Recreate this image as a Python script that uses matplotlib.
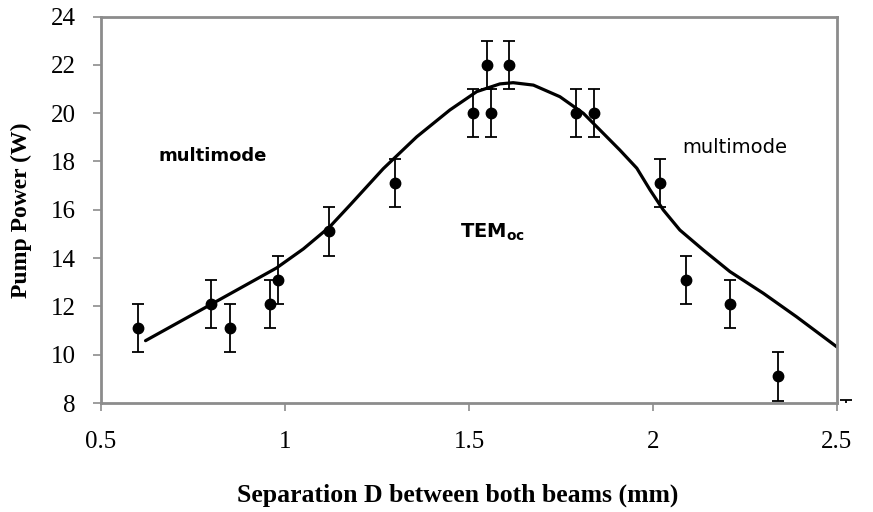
import matplotlib
matplotlib.use("Agg")
import matplotlib.pyplot as plt
from matplotlib.patches import Rectangle

# Data
sep_mm = [0.60, 0.80, 0.85, 0.96, 0.98, 1.12, 1.30, 1.51, 1.55, 1.56, 1.61,
          1.79, 1.84, 2.02, 2.09, 2.21, 2.34]
power_w = [11.1, 12.1, 11.1, 12.1, 13.1, 15.1, 17.1, 20.0, 22.0, 20.0, 22.0,
           20.0, 20.0, 17.1, 13.1, 12.1, 9.1]
power_err = 1.0

extra_x = [2.524]
extra_y = [7.12]

fit_x = [0.621, 0.801, 0.977, 1.050, 1.122, 1.177, 1.267, 1.358, 1.448, 1.521,
         1.584, 1.620, 1.675, 1.747, 1.811, 1.856, 1.910, 1.956, 1.992,
         2.028, 2.073, 2.137, 2.209, 2.300, 2.390, 2.499, 2.52]
fit_y = [10.58, 12.10, 13.59, 14.38, 15.30, 16.20, 17.70, 19.02, 20.13, 20.89,
         21.21, 21.26, 21.16, 20.68, 19.99, 19.30, 18.47, 17.72, 16.82,
         15.99, 15.16, 14.33, 13.44, 12.54, 11.57, 10.33, 10.12]

x_ticks = [0.5, 1, 1.5, 2, 2.5]
x_tick_labels = ["0.5", "1", "1.5", "2", "2.5"]
y_ticks = [8, 10, 12, 14, 16, 18, 20, 22, 24]

fig = plt.figure(figsize=(8.73, 5.12), dpi=100)
ax = fig.add_axes([101/873, 109/512, 736/873, 386.5/512])

serif = ["Liberation Serif", "DejaVu Serif"]

ax.plot(fit_x, fit_y, color="black", lw=2.3, solid_capstyle="round",
        solid_joinstyle="round")
ax.errorbar(sep_mm, power_w, yerr=power_err, fmt="o", color="black",
            ms=7.5, elinewidth=1.3, capsize=4.5, capthick=1.3)

eb = ax.errorbar(extra_x, extra_y, yerr=power_err, fmt="o", color="black",
                 ms=7.5, elinewidth=1.3, capsize=4.5, capthick=1.3)
clip = Rectangle((0, 0), 1.1, 1.0, transform=ax.transAxes, visible=False)
ax.add_patch(clip)
eb.lines[0].set_clip_path(clip)
for line in eb.lines[1]:
    line.set_clip_path(clip)
for coll in eb.lines[2]:
    coll.set_clip_path(clip)

ax.set_xlim(0.5, 2.5)
ax.set_ylim(8, 24)
ax.set_xticks(x_ticks)
ax.set_xticklabels(x_tick_labels)
ax.set_yticks(y_ticks)

for sp in ax.spines.values():
    sp.set_color("#8c8c8c")
    sp.set_linewidth(2)
ax.tick_params(direction="out", length=6, width=1.2, color="#8c8c8c",
               labelsize=18)
ax.tick_params(axis="y", pad=12)
ax.tick_params(axis="x", pad=14)
for lab in ax.get_xticklabels() + ax.get_yticklabels():
    lab.set_fontfamily(serif)

ax.set_xlabel("Separation D between both beams (mm)", fontsize=18.5,
              fontweight="bold", family=serif, labelpad=22)
ax.xaxis.label.set_x(0.484)
ax.set_ylabel("Pump Power (W)", fontsize=17, fontweight="bold",
              family=serif, labelpad=14)

ax.text(0.655, 18.23, "multimode", fontsize=13, fontweight="bold",
        family="DejaVu Sans", va="center", ha="left")
ax.text(1.476, 15.08, r"$\mathbf{TEM_{oc}}$", fontsize=14,
        va="center", ha="left")
ax.text(2.079, 18.56, "multimode", fontsize=14, family="DejaVu Sans",
        va="center", ha="left")

fig.savefig("out.png", dpi=100)
